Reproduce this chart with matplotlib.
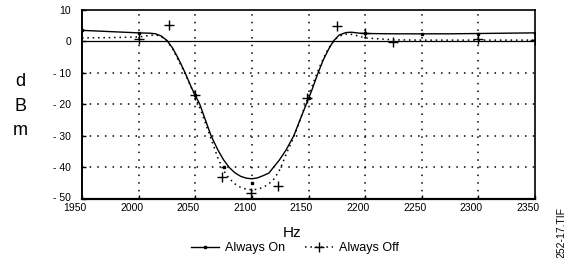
import matplotlib
matplotlib.use("Agg")
import matplotlib.pyplot as plt
import matplotlib.lines as mlines
import matplotlib.transforms as mtransforms

plt.rcParams['font.family'] = ['Liberation Sans', 'DejaVu Sans']

# fitted curve, Always On (solid)
freq_on = [1950, 1975, 2000, 2010, 2015, 2020, 2025, 2030, 2035, 2041, 2047, 2054, 2059, 2064,
           2070, 2075, 2080, 2085, 2090, 2095, 2100, 2105, 2110, 2115, 2119, 2124, 2130, 2137,
           2143, 2148, 2153, 2158, 2163, 2168, 2172, 2177, 2183, 2188, 2195, 2200, 2225, 2250,
           2275, 2300, 2325, 2350]
dbm_on = [3.4, 3.0, 2.6, 2.5, 2.3, 1.6, 0.2, -2.2, -5.5, -10, -15, -20, -25, -30,
          -34.5, -37.6, -40, -41.7, -42.8, -43.4, -43.6, -43.3, -42.6, -41.8, -40, -37.8, -34.6, -30,
          -24.5, -20, -15.5, -10.5, -6, -2.4, 0, 1.9, 2.7, 2.8, 2.5, 2.4, 2.3, 2.3,
          2.3, 2.4, 2.5, 2.6]

# fitted curve, Always Off (dotted)
freq_off = [1950, 1975, 2000, 2010, 2015, 2020, 2025, 2030, 2035, 2040, 2045, 2050, 2055, 2060,
            2065, 2070, 2075, 2080, 2085, 2090, 2095, 2100, 2105, 2110, 2115, 2120, 2125, 2130,
            2135, 2140, 2145, 2150, 2155, 2160, 2165, 2170, 2175, 2180, 2185, 2190, 2200, 2225,
            2250, 2275, 2300, 2325, 2350]
dbm_off = [1.0, 1.1, 1.3, 1.8, 2.0, 1.4, 0.0, -2.5, -6, -9.5, -13.5, -17.5, -22, -27,
           -32, -37, -41, -43.5, -45.2, -46.3, -46.9, -47.1, -46.9, -46.3, -45.2, -43.5, -40.5, -36,
           -32, -27.5, -22.5, -17.5, -12.5, -8, -4, -1, 1.0, 2.0, 2.3, 2.0, 1.0, 0.4,
           0.3, 0.3, 0.3, 0.3, 0.3]

# measured points
pts_on_f = [1950, 2000, 2050, 2075, 2100, 2150, 2200, 2250, 2300, 2350]
pts_on_db = [3.4, 2.6, -17, -40, -45, -18, 2.6, 2.3, 2.4, 2.6]
pts_off_f = [2000, 2027, 2050, 2074, 2099, 2123, 2149, 2175, 2200, 2225, 2300, 2350]
pts_off_db = [0.8, 5.2, -17, -43, -48, -46, -18, 4.9, 2.6, -0.3, 0.7, 0.3]

xticks = [1950, 2000, 2050, 2100, 2150, 2200, 2250, 2300, 2350]
yticks = [-50, -40, -30, -20, -10, 0, 10]
ytick_labels = ['- 50', '- 40', '- 30', '- 20', '- 10', '0', '10']

fig = plt.figure(figsize=(5.73, 2.58), dpi=100)
ax = fig.add_axes([82 / 573, 1 - 199 / 258, 453 / 573, 189.5 / 258])

# grid
dots = (0, (1, 4))
for x in xticks[1:-1]:
    ax.axvline(x, color='black', lw=1.1, ls=dots, zorder=1)
for y in yticks[1:5]:
    ax.axhline(y, color='black', lw=1.1, ls=dots, zorder=1)
ax.axhline(0, color='black', lw=0.9, zorder=1)

ax.plot(freq_on, dbm_on, color='black', lw=1.0, zorder=3)
ax.plot(freq_off, dbm_off, color='black', lw=1.1, ls=(0, (1, 2.5)), zorder=3)
ax.plot(pts_on_f, pts_on_db, ls='none', marker='s', ms=2, color='black', zorder=4)
ax.plot(pts_off_f, pts_off_db, ls='none', marker='+', ms=7, mew=1, color='black', zorder=4)

ax.set_xlim(1950, 2350)
ax.set_ylim(-50, 10)
ax.set_xticks(xticks)
ax.set_xticklabels([str(t) for t in xticks])
ax.set_yticks(yticks)
ax.set_yticklabels(ytick_labels)
ax.tick_params(direction='in', length=3, width=1, labelsize=7.5)
ax.tick_params(axis='x', pad=3)
ax.tick_params(axis='y', pad=8)
for s in ax.spines.values():
    s.set_linewidth(1.2)
ax.spines['bottom'].set_linewidth(1.6)
ax.spines['left'].set_linewidth(1.4)

shift = mtransforms.ScaledTranslation(-0.07, 0, fig.dpi_scale_trans)
for lab in ax.get_xticklabels():
    lab.set_transform(lab.get_transform() + shift)
yshift = mtransforms.ScaledTranslation(0, 0.02, fig.dpi_scale_trans)
ax.get_yticklabels()[0].set_transform(ax.get_yticklabels()[0].get_transform() + yshift)

fig.text(292 / 573, 1 - 233 / 258, 'Hz', ha='center', va='center', fontsize=11)
fig.text(20 / 573, 1 - 106 / 258, 'd\nB\nm', ha='center', va='center',
         fontsize=13, linespacing=1.6)

h_on = mlines.Line2D([], [], color='black', lw=1, marker='s', ms=2)
h_off = mlines.Line2D([], [], color='black', lw=1.1, ls=(0, (1, 2.5)), marker='+', ms=7)
fig.legend([h_on, h_off], ['Always On', 'Always Off'], loc='center',
           bbox_to_anchor=(295 / 573, 1 - 248 / 258), ncol=2, frameon=False,
           fontsize=9, handlelength=2.2, columnspacing=1.6, handletextpad=0.5)

fig.text(561 / 573, 0.0, '252-17.TIF', rotation=90, ha='center', va='bottom', fontsize=7.5)

fig.savefig('out.png', dpi=100)
